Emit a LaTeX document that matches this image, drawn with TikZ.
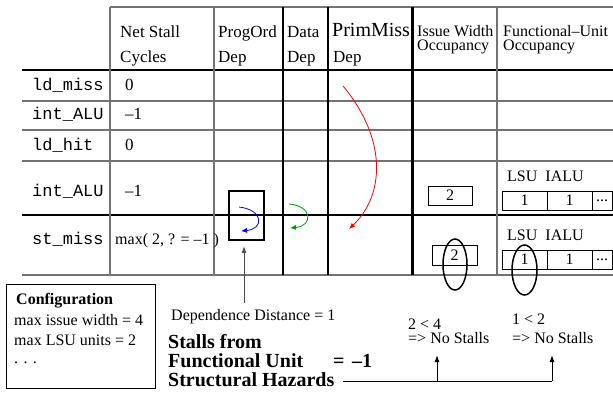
\documentclass[tikz,border=0pt]{standalone}
\usepackage{fontspec}
\setmainfont{Liberation Serif}
\setmonofont{Liberation Mono}
\usetikzlibrary{arrows.meta,shapes.geometric}
\begin{document}
\begin{tikzpicture}[x=1pt,y=-1pt,
  txt/.style={inner sep=0pt,anchor=base west,font=\fontsize{17}{20}\selectfont},
  sml/.style={inner sep=0pt,anchor=base west,font=\fontsize{16}{20}\selectfont},
  code/.style={inner sep=0pt,anchor=base west,font=\ttfamily\fontsize{17}{20}\selectfont},
  big/.style={inner sep=0pt,anchor=base west,font=\bfseries\fontsize{20}{20}\selectfont},
  rule/.style={line width=1.2pt,draw=black!55},
  rulek/.style={line width=1.2pt,draw=black},
  cell/.style={draw,line width=0.9pt,inner sep=0pt,font=\fontsize{16}{20}\selectfont},
  ring/.style={ellipse,draw,line width=1.5pt,inner sep=0pt},
  uparrow/.style={-{Latex[length=7pt,width=5pt]}},
  curvearrow/.style={line width=0.8pt,-{Latex[length=6pt,width=5pt]}}
]
\useasboundingbox (0,0) rectangle (613,395);

% table rules
\draw[rule]  (110,7) -- (613,7);
\draw[rulek] (22,70) -- (613,70);
\draw[rule]  (22,101) -- (613,101);
\draw[rule]  (22,130) -- (613,130);
\draw[rule]  (22,161) -- (613,161);
\draw[rulek] (22,215) -- (613,215);
\draw[rule]  (22,275) -- (613,275);
\draw[rule]  (110,7) -- (110,275);
\draw[rule]  (214,7) -- (214,275);
\draw[rulek] (283,7) -- (283,275);
\draw[rulek] (328,7) -- (328,275);
\draw[line width=3pt] (412,7) -- (412,275);
\draw[rule]  (497,7) -- (497,275);

% column headers
\node[txt] (h1a) at (120,38) {Net Stall};
\node[txt] (h1b) at (120,63) {Cycles};
\node[txt] (h2a) at (218,38) {ProgOrd};
\node[txt] (h2b) at (218,63) {Dep};
\node[txt] (h3a) at (287,38) {Data};
\node[txt] (h3b) at (287,63) {Dep};
\node[inner sep=0pt,anchor=base west,font=\fontsize{20}{20}\selectfont] (h4a) at (332,37) {PrimMiss};
\node[txt] (h4b) at (333,63) {Dep};
\node[sml] (h5a) at (417,37) {Issue Width};
\node[sml] (h5b) at (417,51) {Occupancy};
\node[sml] (h6a) at (503,37) {Functional–Unit};
\node[sml] (h6b) at (503,51) {Occupancy};

% row labels
\node[code] (r1) at (32,91) {ld\_miss};
\node[code] (r2) at (32,120) {int\_ALU};
\node[code] (r3) at (32,151) {ld\_hit};
\node[code] (r4) at (32,197) {int\_ALU};
\node[code] (r5) at (32,245) {st\_miss};

% net stall cycles
\node[txt] (v1) at (125,91) {0};
\node[txt] (v2) at (125,120) {–1};
\node[txt] (v3) at (125,151) {0};
\node[txt] (v4) at (125,197) {–1};
\node[sml] (v5) at (115,245) {max( 2, ? = –1 )};

% dependence marks
\node[draw,line width=1.8pt,minimum width=35,minimum height=49,inner sep=0pt] (dbox) at (246.5,215.5) {};
\coordinate (b0) at (239,207);
\coordinate (b1) at (241,231);
\draw[curvearrow,blue] (b0) .. controls (264,210) and (264,229) .. (b1);
\coordinate (g0) at (289,204);
\coordinate (g1) at (290,228);
\draw[curvearrow,green!60!black] (g0) .. controls (313,206) and (313,226) .. (g1);
\coordinate (m0) at (343,86);
\coordinate (m1) at (349,229);
\draw[curvearrow,red] (m0) .. controls (388,140) and (384,196) .. (m1);

% issue width occupancy
\node[cell,minimum width=44,minimum height=19] (iw1) at (450,195.5) {2};
\node[cell,minimum width=45,minimum height=20] (iw2) at (454.5,255) {2};
\node[ring,minimum width=24,minimum height=51] (e1) at (455,264.5) {};

% functional unit occupancy
\node[sml] (fl1) at (507,182) {LSU\ \ IALU};
\node[cell,minimum width=45,minimum height=19] (fa1) at (524.5,200.5) {1};
\node[cell,minimum width=45,minimum height=19] (fb1) at (569.5,200.5) {1};
\node[cell,minimum width=20,minimum height=19] (fc1) at (602,200.5) {...};
\node[sml] (fl2) at (507,241) {LSU\ \ IALU};
\node[cell,minimum width=45,minimum height=19] (fa2) at (524.5,259.5) {1};
\node[cell,minimum width=45,minimum height=19] (fb2) at (569.5,259.5) {1};
\node[cell,minimum width=20,minimum height=19] (fc2) at (602,259.5) {...};
\node[ring,minimum width=25,minimum height=50] (e2) at (524.5,270) {};

% dependence distance
\node[sml] (dd) at (171,320) {Dependence Distance = 1};
\coordinate (dd0) at (244,303);
\draw[line width=1pt,black!70,uparrow] (dd0) -- (244,246);

% configuration
\node[draw,line width=0.9pt,minimum width=149,minimum height=104,inner sep=0pt] (cfg) at (80.5,336) {};
\node[inner sep=0pt,anchor=base west,font=\bfseries\fontsize{16}{20}\selectfont] (c1) at (16,305) {Configuration};
\node[sml] (c2) at (14,325) {max issue width = 4};
\node[sml] (c3) at (14,345) {max LSU units = 2};
\node[sml] (c4) at (14,363) {. . .};

% stall summary
\node[big] (s1) at (168,348) {Stalls from};
\node[big] (s2) at (168,367) {Functional Unit};
\node[big] (s3) at (168,386) {Structural Hazards};
\node[big] (s4) at (333,367) {=};
\node[big] (s5) at (352,367) {–1};

\node[sml] (n1a) at (408,330) {2 < 4};
\node[sml] (n1b) at (408,343) {=> No Stalls};
\node[sml] (n2a) at (512,324) {1 < 2};
\node[sml] (n2b) at (512,343) {=> No Stalls};

\coordinate (j0) at (343,381);
\coordinate (j1) at (437,381);
\coordinate (j2) at (552,381);
\draw[line width=1pt] (j0) -- (j2);
\draw[line width=1pt,uparrow] (j1) -- (437,355);
\draw[line width=1pt,uparrow] (j2) -- (552,355);
\end{tikzpicture}
\end{document}
